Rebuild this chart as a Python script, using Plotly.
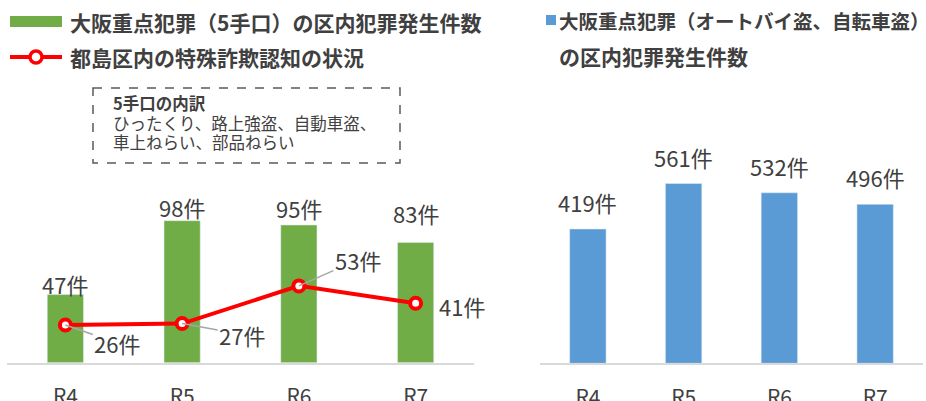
import plotly.graph_objects as go

W, H = 926, 401

# ---- data ----
years = ["R4", "R5", "R6", "R7"]
five_methods = [47, 98, 95, 83]           # 大阪重点犯罪（5手口）
fraud = [26, 27, 53, 41]                  # 都島区内の特殊詐欺認知
bike_theft = [419, 561, 532, 496]         # 大阪重点犯罪（オートバイ盗、自転車盗）
unit = "件"
note_lines = ["<b>5手口の内訳</b>", "ひったくり、路上強盗、自動車盗、", "車上ねらい、部品ねらい"]

# ---- style ----
FONT = "Noto Sans CJK JP"
TXT = "#404040"
GREEN = "#70AD47"
BLUE = "#5B9BD5"
RED = "#FF0000"
AXIS = "#D9D9D9"
LEADER = "#A6A6A6"

# label offsets (pixels above bar top, label centre)
bar_label_shift_left = [11, 14, 17, 29]
bar_label_shift_right = [27, 27, 27, 27]
# fraud label offsets (text centre relative to point, pixels: ax right, ay down)
fraud_ax = [52, 60, 59, 46]
fraud_ay = [18, 11, -26, 3]
fraud_arrow = [True, True, True, False]
note_y = [103, 123, 142]


def px(x):
    return x / W


def py(y):
    return 1 - y / H


fig = go.Figure()

fig.add_trace(go.Bar(x=years, y=five_methods, marker_color=GREEN, width=0.31,
                     xaxis="x", yaxis="y", showlegend=False, hoverinfo="skip"))
fig.add_trace(go.Scatter(x=years, y=fraud, mode="lines+markers",
                         line=dict(color=RED, width=4),
                         marker=dict(symbol="circle", size=11, color="white",
                                     line=dict(color=RED, width=4)),
                         xaxis="x", yaxis="y", showlegend=False, hoverinfo="skip"))
fig.add_trace(go.Bar(x=years, y=bike_theft, marker_color=BLUE, width=0.38,
                     xaxis="x2", yaxis="y2", showlegend=False, hoverinfo="skip"))

LBL = dict(size=22, color=TXT, family=FONT)
annotations = []
for c, v, s in zip(years, five_methods, bar_label_shift_left):
    annotations.append(dict(x=c, y=v, xref="x", yref="y", text=f"{v}{unit}",
                            showarrow=False, yanchor="middle", yshift=s, font=LBL))
for c, v, s in zip(years, bike_theft, bar_label_shift_right):
    annotations.append(dict(x=c, y=v, xref="x2", yref="y2", text=f"{v}{unit}",
                            showarrow=False, yanchor="middle", yshift=s, font=LBL))
for c, v, ax, ay, arr in zip(years, fraud, fraud_ax, fraud_ay, fraud_arrow):
    if arr:
        annotations.append(dict(x=c, y=v, xref="x", yref="y", text=f"{v}{unit}",
                                showarrow=True, arrowhead=0, arrowwidth=1.5,
                                arrowcolor=LEADER, ax=ax, ay=ay, standoff=0, font=LBL))
    else:
        annotations.append(dict(x=c, y=v, xref="x", yref="y", text=f"{v}{unit}",
                                showarrow=False, xshift=ax, yshift=-ay, font=LBL))

# legend texts (manual)
leg_font = dict(size=21, color=TXT, family=FONT)
annotations += [
    dict(x=px(68), y=py(22), xref="paper", yref="paper", xanchor="left", yanchor="middle",
         text="<b>大阪重点犯罪（5手口）の区内犯罪発生件数</b>", showarrow=False, font=leg_font),
    dict(x=px(68), y=py(57), xref="paper", yref="paper", xanchor="left", yanchor="middle",
         text="<b>都島区内の特殊詐欺認知の状況</b>", showarrow=False, font=leg_font),
    dict(x=px(557), y=py(20), xref="paper", yref="paper", xanchor="left", yanchor="middle",
         text="<b>大阪重点犯罪（オートバイ盗、自転車盗）</b>", showarrow=False,
         font=dict(size=19.5, color=TXT, family=FONT)),
    dict(x=px(557), y=py(56), xref="paper", yref="paper", xanchor="left", yanchor="middle",
         text="<b>の区内犯罪発生件数</b>", showarrow=False, font=leg_font),
]
for t, yy in zip(note_lines, note_y):
    annotations.append(dict(x=px(112), y=py(yy), xref="paper", yref="paper", xanchor="left",
                            yanchor="middle", text=t, showarrow=False, borderpad=0,
                            font=dict(size=16.5, color=TXT, family=FONT)))

shapes = [
    dict(type="rect", xref="paper", yref="paper", x0=px(10), x1=px(62), y0=py(16), y1=py(27),
         fillcolor=GREEN, line=dict(width=0)),
    dict(type="line", xref="paper", yref="paper", x0=px(10), x1=px(62), y0=py(57), y1=py(57),
         line=dict(color=RED, width=4)),
    dict(type="circle", xref="paper", yref="paper", x0=px(30), x1=px(42), y0=py(51), y1=py(63),
         fillcolor="white", line=dict(color=RED, width=3.5)),
    dict(type="rect", xref="paper", yref="paper", x0=px(546), x1=px(556), y0=py(15), y1=py(25),
         fillcolor=BLUE, line=dict(width=0)),
    dict(type="rect", xref="paper", yref="paper", x0=px(93), x1=px(400), y0=py(88), y1=py(163),
         fillcolor="rgba(0,0,0,0)", line=dict(color="#595959", width=1.5, dash="dash")),
]

axis_common = dict(showgrid=False, zeroline=False, showline=True, linecolor=AXIS, linewidth=2,
                   ticks="", tickfont=dict(size=21, color=TXT, family=FONT),
                   ticklabelstandoff=14, fixedrange=True, automargin=False,
                   range=[-0.5, 3.5], autorange=False)

fig.update_layout(
    width=W, height=H,
    margin=dict(l=0, r=0, t=0, b=0, autoexpand=False),
    paper_bgcolor="white", plot_bgcolor="white",
    font=dict(family=FONT, color=TXT),
    xaxis=dict(domain=[px(7), px(474)], anchor="y", **axis_common),
    yaxis=dict(domain=[py(362.7), py(145.3)], range=[0, 150], visible=False, automargin=False),
    xaxis2=dict(domain=[px(540), px(923)], anchor="y2", **axis_common),
    yaxis2=dict(domain=[py(363.3), py(171)], range=[0, 600], visible=False, automargin=False),
    annotations=annotations,
    shapes=shapes,
)

fig.write_html("out.html")
